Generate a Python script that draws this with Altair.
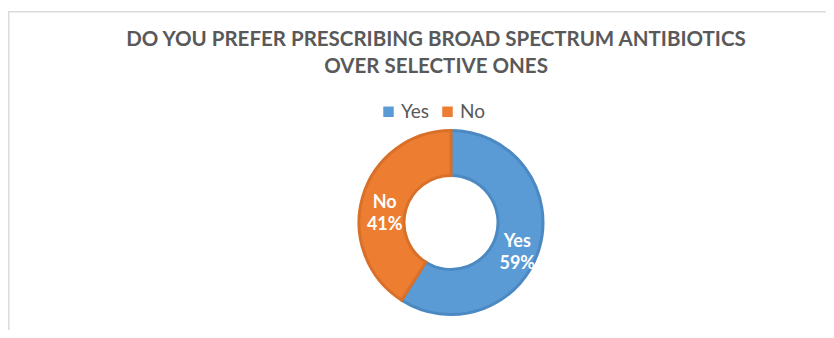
import altair as alt
import pandas as pd

# ---- data ----
categories = ["Yes", "No"]
values = [59, 41]
labels = ["Yes\n59%", "No\n41%"]
order = [1, 2]
colors = ["#5B9BD5", "#ED7D31"]
strokes = ["#4C89C2", "#D87029"]
title_lines = ["DO YOU PREFER PRESCRIBING BROAD SPECTRUM ANTIBIOTICS", "OVER SELECTIVE ONES"]

df = pd.DataFrame({"cat": categories, "value": values, "label": labels, "ord": order, "stroke": strokes})

W, H = 818, 322
CX, CY = 443, 214.5
FONT = "Lato"

base = alt.Chart(df)

arc = base.mark_arc(outerRadius=92, innerRadius=47, strokeWidth=3).encode(
    theta=alt.Theta("value:Q", stack=True),
    order=alt.Order("ord:Q"),
    color=alt.Color(
        "cat:N",
        scale=alt.Scale(domain=categories, range=colors),
        sort=categories,
        legend=alt.Legend(
            title=None,
            orient="none",
            legendX=371,
            legendY=94,
            direction="horizontal",
            symbolType="square",
            symbolSize=110,
            symbolStrokeWidth=0,
            labelFont=FONT,
            labelFontSize=19,
            labelColor="#595959",
            labelOffset=3,
            columnPadding=8,
        ),
    ),
    stroke=alt.Stroke("stroke:N", scale=None),
    x=alt.value(CX),
    y=alt.value(CY),
)

text = base.mark_text(
    radius=69, font=FONT, fontWeight="bold", fontSize=18, color="white",
    lineBreak="\n", lineHeight=22, align="center", baseline="middle",
).encode(
    theta=alt.Theta("value:Q", stack=True),
    order=alt.Order("ord:Q"),
    text="label:N",
    x=alt.value(CX),
    y=alt.value(CY),
)

title_df = pd.DataFrame({"t": ["\n".join(title_lines)]})
title = alt.Chart(title_df).mark_text(
    font=FONT, fontWeight="bold", fontSize=20.5, color="#595959",
    lineBreak="\n", lineHeight=27, align="center", baseline="middle",
).encode(text="t:N", x=alt.value(428), y=alt.value(31.5))

frame_df = pd.DataFrame({"k": [0]})
top_line = alt.Chart(frame_df).mark_rule(color="#DCDCDC", strokeWidth=1.5).encode(
    x=alt.value(0), x2=alt.value(W), y=alt.value(3.75)
)
left_line = alt.Chart(frame_df).mark_rule(color="#DCDCDC", strokeWidth=1.5).encode(
    x=alt.value(0.75), y=alt.value(3), y2=alt.value(H)
)

chart = alt.layer(top_line, left_line, title, arc, text).properties(
    width=W, height=H, autosize=alt.AutoSizeParams(type="none"), padding=0,
    background="white",
).configure_view(stroke=None)

chart.save("out.html", embed_options={"renderer": "svg", "actions": False})
